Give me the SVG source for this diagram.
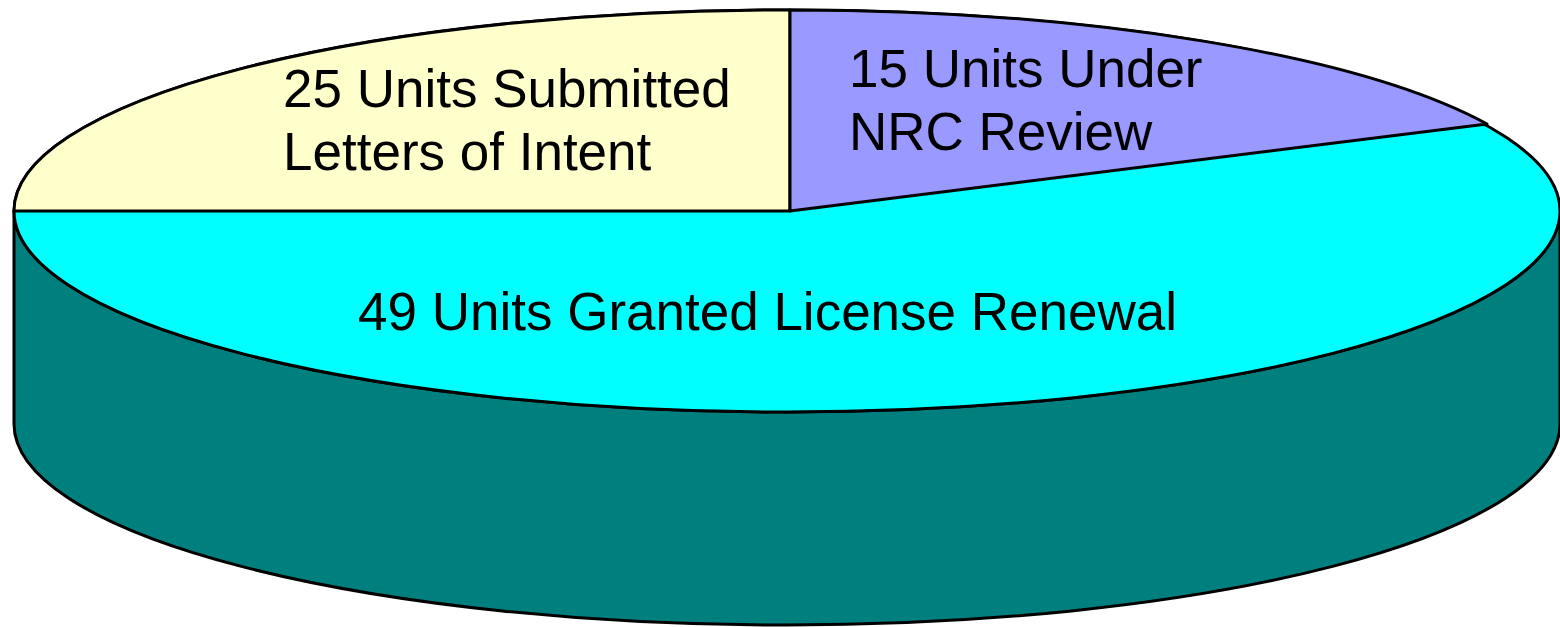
<svg xmlns="http://www.w3.org/2000/svg" width="1560" height="627" viewBox="0 0 1560 627">
  <style>
    .edge { stroke: #000; stroke-width: 3; stroke-linejoin: round; }
    .label { font-family: "Liberation Sans", Arial, sans-serif; font-size: 53px; fill: #000; }
  </style>
  <rect width="1560" height="627" fill="#fff"/>
  <!-- cylinder wall (front half of the granted slice) -->
  <g id="side">
    <path class="edge" fill="#007f7f" d="M14,211 L14,424 A773,201 0 0,0 1560,424 L1560,211 A773,201 0 0,1 14,211 Z"/>
  </g>
  <!-- top face: granted slice -->
  <g id="slice-granted">
    <ellipse class="edge" cx="787" cy="211" rx="773" ry="201" fill="#00ffff"/>
    <text class="label" x="358" y="330">49 Units Granted License Renewal</text>
  </g>
  <!-- top face: letters of intent slice -->
  <g id="slice-intent">
    <path class="edge" fill="#ffffcc" d="M790,211 L14,211 A773,201 0 0,1 790,10 Z"/>
    <text class="label" x="283" y="107">25 Units Submitted</text>
    <text class="label" x="283" y="170">Letters of Intent</text>
  </g>
  <!-- top face: under review slice -->
  <g id="slice-review">
    <path class="edge" fill="#9999ff" d="M790,211 L790,10 A773,201 0 0,1 1487,124 Z"/>
    <text class="label" x="849" y="87">15 Units Under</text>
    <text class="label" x="849" y="150">NRC Review</text>
  </g>
</svg>
